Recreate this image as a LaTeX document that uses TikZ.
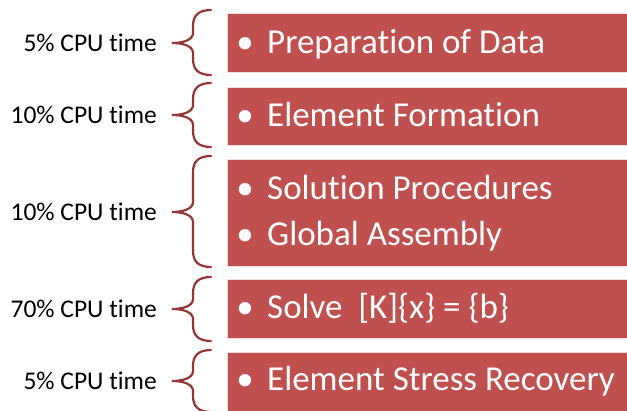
\documentclass[tikz,border=0pt]{standalone}
\usepackage{fontspec}
\setmainfont[Ligatures=NoCommon]{Carlito}
\definecolor{Cboxred}{HTML}{C0504D}
\definecolor{Cbracered}{HTML}{943634}

\begin{document}
\begin{tikzpicture}[x=1pt,y=-1pt,
	taskbox/.style={fill=Cboxred,draw=white!80!Cboxred,line width=0.6pt,
		anchor=north west,minimum width=402pt,inner sep=0pt},
	tasktext/.style={anchor=base west,text=white,inner sep=0pt,
		font=\fontsize{35}{42}\selectfont},
	dot/.style={anchor=base,text=white,inner sep=0pt,
		font=\fontsize{35}{42}\selectfont},
	share/.style={anchor=base east,inner sep=0pt,
		font=\fontsize{25.5}{30}\selectfont},
	cpubrace/.style={Cbracered,line width=2.2pt,line cap=round}]
	\useasboundingbox (0,0) rectangle (627,410);
	% the red task bars
	\foreach \top/\bot [count=\i] in {12.5/72,86.5/145,159/266,279/338,352/412}
		\node[taskbox,minimum height={\bot-\top}] (task\i) at (227,\top) {};
	% bullet lines inside the bars
	\foreach \y/\txt [count=\j] in {53/Preparation of Data,126/Element Formation,
		199/Solution Procedures,245/Global Assembly,
		318/{Solve\ \ [K]\{x\} = \{b\}},390/Element Stress Recovery}{
		\node[dot] (dot\j) at (245,\y) {•};
		\node[tasktext] (line\j) at (267,\y) {\txt};
	}
	% braces and CPU shares
	\foreach \top/\tip/\bot/\pct [count=\i] in {10/43/75/5,83/115/147/10,
		156/212/267/10,277/309/341/70,350/381/412/5}{
		\draw[cpubrace] (211,\top) .. controls (198,\top) and (193,{\top+6}) ..
			(193,{\top+16}) -- (193,{\tip-10})
			.. controls (193,{\tip-3}) and (183,\tip) .. (172,\tip)
			.. controls (183,\tip) and (193,{\tip+3}) .. (193,{\tip+10})
			-- (193,{\bot-16}) .. controls (193,{\bot-6}) and (198,\bot) .. (211,\bot);
		\node[share] (share\i) at (157,{\tip+8}) {\pct\% CPU time};
	}
\end{tikzpicture}
\end{document}
